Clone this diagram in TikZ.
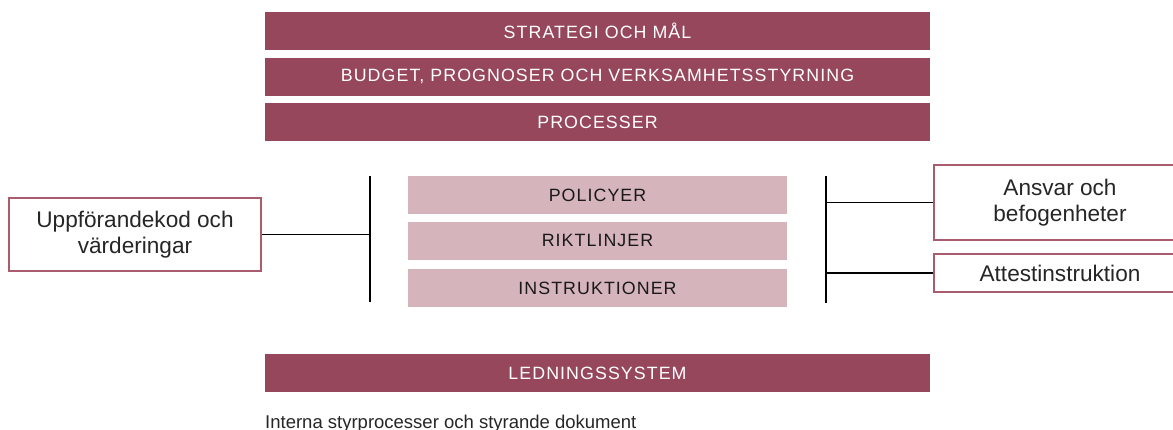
\documentclass[tikz,border=0pt]{standalone}
\usepackage{fontspec}
\setmainfont{Liberation Sans}
\newfontfamily\bandfont[LetterSpace=6]{Liberation Sans}
\usetikzlibrary{positioning, calc}
\definecolor{plum}{RGB}{150,71,92}
\definecolor{rose}{RGB}{213,180,187}
\definecolor{framecol}{RGB}{168,92,110}

\begin{document}
\begin{tikzpicture}[x=1pt, y=-1pt,
	band/.style={fill=plum, text=white, minimum width=665pt, minimum height=37.5pt, inner sep=0pt, font=\bandfont\fontsize{17.8}{19}\selectfont},
	sheet/.style={fill=rose, text=black!90, minimum width=379pt, minimum height=37.5pt, inner sep=0pt, font=\bandfont\fontsize{17.8}{19}\selectfont},
	sidebox/.style={draw=framecol, line width=2.4pt, fill=white, text=black!85, align=center, minimum width=252pt, inner sep=0pt, font=\fontsize{22.6}{26.5}\selectfont},
	stem/.style={line width=1.3pt}]
	\useasboundingbox (0,0) rectangle (1173,430);
	% top bands
	\node[band] (goals) at (597.5,30.9) {STRATEGI OCH MÅL};
	\node[band] (budget) at (597.5,76.9) {BUDGET, PROGNOSER OCH VERKSAMHETSSTYRNING};
	\node[band] (proc) at (597.5,121.9) {PROCESSER};
	% governing documents
	\node[sheet] (policy) at (597.5,194.9) {POLICYER};
	\node[sheet] (guide) at (597.5,240.9) {RIKTLINJER};
	\node[sheet] (instr) at (597.5,287.9) {INSTRUKTIONER};
	% side boxes
	\node[sidebox, minimum height=73pt] (values) at (135,234.5) {Uppförandekod och\\värderingar};
	\node[sidebox, minimum height=75pt] (resp) at (1060,202.5) {Ansvar och\\befogenheter};
	\node[sidebox, minimum height=38pt] (attest) at (1060,273) {Attestinstruktion};
	% brackets
	\coordinate (ltop) at (370,176);
	\coordinate (lbot) at (370,302);
	\coordinate (rtop) at (826,176);
	\coordinate (rbot) at (826,303);
	\draw[stem] (ltop) -- (lbot);
	\draw[stem] (rtop) -- (rbot);
	\draw[stem] (values.east) -- (values.east -| ltop);
	\draw[stem] (resp.west) -- (resp.west -| rtop);
	\draw[stem] (attest.west) -- (attest.west -| rtop);
	% bottom band and caption
	\node[band] (mgmt) at (597.5,372.9) {LEDNINGSSYSTEM};
	\node[anchor=base west, inner sep=0pt, text=black!85, font=\fontsize{18.5}{20}\selectfont] (caption) at (265,428) {Interna styrprocesser och styrande dokument};
\end{tikzpicture}
\end{document}
